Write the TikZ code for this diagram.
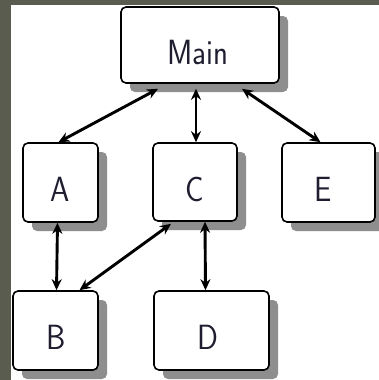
\documentclass[tikz,border=0pt]{standalone}
\usepackage{fontspec}
\usetikzlibrary{shadows,arrows.meta}
\definecolor{frame}{HTML}{5B5C50}
\definecolor{shadowgray}{HTML}{8E8E8E}
\definecolor{txt}{HTML}{1E1E30}
\begin{document}
\begin{tikzpicture}[x=1pt,y=-1pt,
  box/.style={draw=black, line width=1.6pt, rounded corners=5pt, fill=white,
    drop shadow={shadow xshift=9pt, shadow yshift=-9pt, fill=shadowgray, opacity=1},
    inner sep=0pt},
  boxtext/.style 2 args={label={[yshift=-7pt, xshift=#2, inner sep=0pt, font=\sffamily\fontsize{35}{35}\selectfont, text=txt, xscale=0.88]center:#1}},
  link/.style={line width=2.9pt, {Stealth[length=11pt,width=10pt]}-{Stealth[length=11pt,width=10pt]}}]
\useasboundingbox (0,0) rectangle (379,380);
\fill[frame] (0,0) rectangle (379,380);
\fill[white] (11,5) rectangle (379,380);
\node[box, minimum width=158pt, minimum height=76pt, boxtext={Main}{-2pt}] (main) at (200,45) {};
\node[box, minimum width=75pt, minimum height=79pt, boxtext={A}{0pt}] (A) at (60.5,182.5) {};
\node[box, minimum width=84pt, minimum height=78pt, boxtext={C}{0pt}] (C) at (195,182) {};
\node[box, minimum width=93pt, minimum height=79pt, boxtext={E}{-5pt}] (E) at (328.5,182.5) {};
\node[box, minimum width=85pt, minimum height=79pt, boxtext={B}{1pt}] (B) at (55.5,330.5) {};
\node[box, minimum width=115pt, minimum height=79pt, boxtext={D}{-4pt}] (D) at (211.5,330.5) {};
\draw[link] ([xshift=-2pt]A.north) -- ([xshift=-42pt,yshift=-5pt]main.south);
\draw[link] ([xshift=1pt]C.north) -- ([xshift=-4pt,yshift=-5pt]main.south);
\draw[link] ([xshift=-8pt]E.north) -- ([xshift=42pt,yshift=-5pt]main.south);
\draw[link] ([xshift=-3pt]A.south) -- ([xshift=1pt]B.north);
\draw[link] ([xshift=24pt]B.north) -- ([xshift=-24pt,yshift=-2pt]C.south);
\draw[link] ([xshift=10pt]C.south) -- ([xshift=-6pt]D.north);
\end{tikzpicture}
\end{document}
